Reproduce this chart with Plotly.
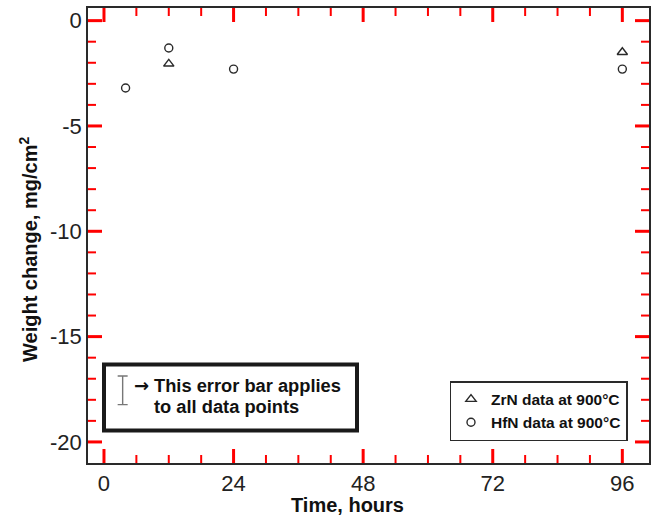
import plotly.graph_objects as go

# Weight change of nitride coatings oxidised at 900 °C
hfn_time = [4, 12, 24, 96]
hfn_weight = [-3.2, -1.3, -2.3, -2.3]
zrn_time = [12, 96]
zrn_weight = [-2.05, -1.5]

# representative error bar drawn inside the note box
err_time = [3.46]
err_center = [-17.55]
err_half = [0.68]

x_ticks = [0, 24, 48, 72, 96]
x_tick_text = ["0", "24", "48", "72", "96"]
x_minor = [6, 12, 18, 30, 36, 42, 54, 60, 66, 78, 84, 90]
y_ticks = [0, -5, -10, -15, -20]
y_tick_text = ["0", "-5", "-10", "-15", "-20"]
y_minor = [-1, -2, -3, -4, -6, -7, -8, -9, -11, -12, -13, -14, -16, -17, -18, -19]

W, H = 653, 518
L, R, T, B = 88, 4, 8, 55
PW, PH = W - L - R, H - T - B


def px_x(p):
    return (p - L) / PW


def px_y(p):
    return (H - B - p) / PH


INK = "#2a2a2a"
TICK = "#ff0000"
FONT = "Liberation Sans, Arial, sans-serif"
fig = go.Figure()

fig.add_trace(go.Scatter(
    x=zrn_time, y=zrn_weight, mode="markers", name="ZrN data at 900°C",
    marker=dict(symbol="triangle-up-open", size=9, color=INK, line=dict(width=1.4)),
))
fig.add_trace(go.Scatter(
    x=hfn_time, y=hfn_weight, mode="markers", name="HfN data at 900°C",
    marker=dict(symbol="circle-open", size=8, color=INK, line=dict(width=1.4)),
))
fig.add_trace(go.Scatter(
    x=err_time, y=err_center, mode="markers", showlegend=False,
    marker=dict(size=0.1, color="rgba(0,0,0,0)"),
    error_y=dict(type="data", array=err_half, color="#777777", thickness=1.4, width=5),
))

axis_common = dict(
    showgrid=False, zeroline=False, showline=True, linecolor=INK, linewidth=1.5,
    mirror=True, ticks="",
    tickfont=dict(family=FONT, size=22, color="#222222"),
)
fig.update_xaxes(range=[-2.96, 100.94], tickvals=x_ticks, ticktext=x_tick_text, **axis_common)
fig.update_yaxes(range=[-21.0, 0.6], tickvals=y_ticks, ticktext=y_tick_text, **axis_common)

# inward tick marks on all four sides of the frame
shapes = []
for vals, length, width in ((x_ticks, 14, 3), (x_minor, 8, 2)):
    for v in vals:
        for base, sign in ((0, 1), (1, -1)):
            shapes.append(dict(type="line", xref="x", yref="paper", x0=v, x1=v,
                               y0=base, y1=base + sign * length / PH,
                               line=dict(color=TICK, width=width)))
for vals, length, width in ((y_ticks, 14, 3), (y_minor, 8, 2)):
    for v in vals:
        for base, sign in ((0, 1), (1, -1)):
            shapes.append(dict(type="line", xref="paper", yref="y", y0=v, y1=v,
                               x0=base, x1=base + sign * length / PW,
                               line=dict(color=TICK, width=width)))

# note box around the error-bar explanation
shapes.append(dict(type="rect", xref="paper", yref="paper",
                   x0=px_x(104), x1=px_x(357), y0=px_y(430.5), y1=px_y(364.5),
                   line=dict(color="#1a1a1a", width=4)))

bold = dict(family=FONT, color="#111111")

annotations = [
    dict(x=px_x(347.5), y=px_y(505), text="<b>Time, hours</b>", showarrow=False,
         xanchor="center", yanchor="middle", font=dict(size=20, **bold)),
    dict(x=px_x(28), y=px_y(250), text="<b>Weight change, mg/cm<sup>2</sup></b>",
         showarrow=False, textangle=-90, xanchor="center", yanchor="middle",
         font=dict(size=20, **bold)),
    dict(x=px_x(132), y=px_y(385), text="<b>→</b>", showarrow=False,
         xanchor="left", yanchor="middle",
         font=dict(size=18, family="DejaVu Sans, sans-serif", color="#111111")),
    dict(x=px_x(152), y=px_y(385), text="<b>This error bar applies</b>", showarrow=False,
         xanchor="left", yanchor="middle", font=dict(size=18.3, **bold)),
    dict(x=px_x(152), y=px_y(406.5), text="<b>to all data points</b>", showarrow=False,
         xanchor="left", yanchor="middle", font=dict(size=18.3, **bold)),
]
for a in annotations:
    a.update(xref="paper", yref="paper")

fig.update_layout(
    width=W, height=H, margin=dict(l=L, r=R, t=T, b=B, autoexpand=False),
    paper_bgcolor="white", plot_bgcolor="white",
    annotations=annotations,
    shapes=shapes,
    legend=dict(
        x=px_x(449.5), y=px_y(381), xanchor="left", yanchor="top",
        bgcolor="white", bordercolor=INK, borderwidth=1.5,
        font=dict(size=15.5, weight="bold", **bold), tracegroupgap=0, itemwidth=30,
    ),
    showlegend=True,
)

fig.write_html("out.html")
